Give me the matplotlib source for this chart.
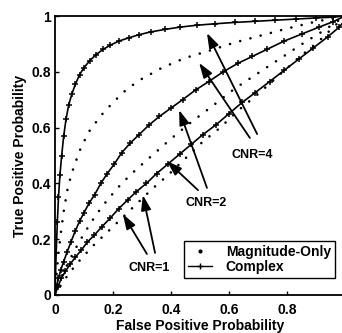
import numpy as np
import matplotlib.pyplot as plt
from matplotlib.lines import Line2D

plt.rcParams['font.family'] = ['Liberation Sans', 'DejaVu Sans']
plt.rcParams['font.weight'] = 'bold'

# ROC curves (false positive prob., true positive prob.)
# complex data, CNR = 4, 2, 1  (solid line with + markers)
cx4 = [0, 0.004, 0.008, 0.012, 0.017, 0.023, 0.03, 0.038, 0.047, 0.058, 0.07, 0.085, 0.1, 0.12,
       0.14, 0.165, 0.19, 0.22, 0.255, 0.29, 0.33, 0.38, 0.43, 0.49, 0.55, 0.62, 0.69, 0.76,
       0.83, 0.9, 0.96, 1.0]
cy4 = [0, 0.15, 0.26, 0.35, 0.43, 0.5, 0.57, 0.63, 0.68, 0.72, 0.755, 0.79, 0.815, 0.84,
       0.86, 0.88, 0.895, 0.91, 0.922, 0.933, 0.943, 0.952, 0.96, 0.967, 0.972, 0.977, 0.981,
       0.985, 0.989, 0.993, 0.996, 1.0]
cx2 = [0, 0.005, 0.012, 0.02, 0.03, 0.042, 0.055, 0.07, 0.085, 0.1, 0.118, 0.137, 0.158, 0.18,
       0.205, 0.23, 0.26, 0.29, 0.325, 0.36, 0.4, 0.44, 0.485, 0.53, 0.58, 0.63, 0.68, 0.73,
       0.79, 0.85, 0.91, 0.96, 1.0]
cy2 = [0, 0.03, 0.06, 0.09, 0.12, 0.155, 0.19, 0.23, 0.265, 0.295, 0.33, 0.36, 0.4, 0.435,
       0.47, 0.51, 0.545, 0.575, 0.61, 0.64, 0.67, 0.7, 0.735, 0.765, 0.8, 0.83, 0.855, 0.88,
       0.91, 0.935, 0.96, 0.98, 1.0]
cx1 = [0, 0.01, 0.022, 0.036, 0.052, 0.07, 0.09, 0.112, 0.136, 0.162, 0.19, 0.22, 0.25, 0.28,
       0.315, 0.35, 0.39, 0.43, 0.47, 0.51, 0.555, 0.6, 0.645, 0.69, 0.74, 0.79, 0.84, 0.89,
       0.94, 0.98, 1.0]
cy1 = [0, 0.03, 0.06, 0.085, 0.11, 0.135, 0.16, 0.19, 0.215, 0.245, 0.275, 0.31, 0.34, 0.37,
       0.4, 0.435, 0.47, 0.505, 0.54, 0.575, 0.61, 0.65, 0.69, 0.725, 0.765, 0.805, 0.845,
       0.885, 0.925, 0.96, 0.985]

# magnitude-only data, CNR = 4, 2, 1  (dotted)
mx4 = [0, 0.005, 0.012, 0.02, 0.03, 0.045, 0.065, 0.09, 0.12, 0.16, 0.2, 0.25, 0.3, 0.37,
       0.45, 0.53, 0.62, 0.71, 0.8, 0.9, 1.0]
my4 = [0, 0.07, 0.15, 0.22, 0.3, 0.39, 0.46, 0.53, 0.59, 0.645, 0.69, 0.74, 0.775, 0.815,
       0.85, 0.875, 0.905, 0.93, 0.955, 0.98, 1.0]
mx2 = [0, 0.01, 0.025, 0.045, 0.07, 0.1, 0.14, 0.18, 0.23, 0.28, 0.34, 0.4, 0.47, 0.54,
       0.62, 0.7, 0.78, 0.86, 0.93, 1.0]
my2 = [0, 0.03, 0.07, 0.115, 0.165, 0.22, 0.285, 0.34, 0.4, 0.45, 0.505, 0.56, 0.62, 0.675,
       0.74, 0.795, 0.85, 0.905, 0.95, 1.0]
mx1 = [0, 0.02, 0.05, 0.09, 0.13, 0.18, 0.23, 0.28, 0.335, 0.39, 0.45, 0.51, 0.57, 0.63,
       0.7, 0.77, 0.84, 0.91, 1.0]
my1 = [0, 0.035, 0.08, 0.13, 0.175, 0.225, 0.275, 0.325, 0.38, 0.43, 0.49, 0.55, 0.6, 0.66,
       0.72, 0.785, 0.85, 0.91, 1.0]

ticks = [0, 0.2, 0.4, 0.6, 0.8]
tick_labels = ['0', '0.2', '0.4', '0.6', '0.8']
yticks = [0, 0.2, 0.4, 0.6, 0.8, 1]
ytick_labels = ['0', '0.2', '0.4', '0.6', '0.8', '1']

# labels with their arrows: (label, text pos, [(tail, tip), ...])
cnr_notes = [
    ('CNR=4', (0.679, 0.502), [((0.697, 0.577), (0.524, 0.939)), ((0.672, 0.563), (0.497, 0.832))]),
    ('CNR=2', (0.521, 0.330), [((0.524, 0.384), (0.428, 0.663)), ((0.493, 0.376), (0.386, 0.480))]),
    ('CNR=1', (0.324, 0.097), [((0.317, 0.147), (0.234, 0.290)), ((0.345, 0.151), (0.303, 0.358))]),
]

fig = plt.figure(figsize=(3.42, 3.33), dpi=100)
ax = fig.add_axes([55 / 342, 38 / 333, 290 / 342, 279 / 333])

dots = (0, (0.01, 4))
for x, y in [(mx4, my4), (mx2, my2), (mx1, my1)]:
    ax.plot(x, y, color='k', lw=1.9, linestyle=dots, dash_capstyle='round')
for x, y in [(cx4, cy4), (cx2, cy2), (cx1, cy1)]:
    ax.plot(x, y, color='k', lw=1.2, marker='+', ms=5, mew=1.1)

for label, pos, arrows in cnr_notes:
    ax.text(pos[0], pos[1], label, ha='center', va='center', fontsize=9, fontweight='bold')
    for tail, tip in arrows:
        ax.annotate('', xy=tip, xytext=tail,
                    arrowprops=dict(arrowstyle='-|>,head_length=0.9,head_width=0.3',
                                    color='k', lw=1.3, shrinkA=0, shrinkB=0))

ax.set_xlim(0, 1)
ax.set_ylim(0, 1)
ax.set_xticks(ticks)
ax.set_xticklabels(tick_labels)
ax.set_yticks(yticks)
ax.set_yticklabels(ytick_labels)
ax.tick_params(direction='in', length=3, width=1, labelsize=10)
ax.tick_params(axis='x', pad=6)
ax.tick_params(axis='y', pad=3)
for s in ax.spines.values():
    s.set_linewidth(1.3)
ax.spines['right'].set_visible(False)

ax.set_xlabel('False Positive Probability', fontsize=10, fontweight='bold', labelpad=1)
ax.set_ylabel('True Positive Probability', fontsize=10, fontweight='bold', labelpad=3)

handles = [Line2D([], [], color='k', marker='.', ms=4, linestyle='none'),
           Line2D([], [], color='k', lw=1, marker='+', ms=5)]
leg = ax.legend(handles, ['Magnitude-Only', 'Complex'], loc='lower right',
                bbox_to_anchor=(0.966, 0.061), fontsize=10, fancybox=False,
                edgecolor='k', framealpha=1, handlelength=1.7, handletextpad=1.0,
                borderpad=0.3, labelspacing=0.05, borderaxespad=0)
leg.get_frame().set_linewidth(1.0)

fig.savefig('out.png', dpi=100)
